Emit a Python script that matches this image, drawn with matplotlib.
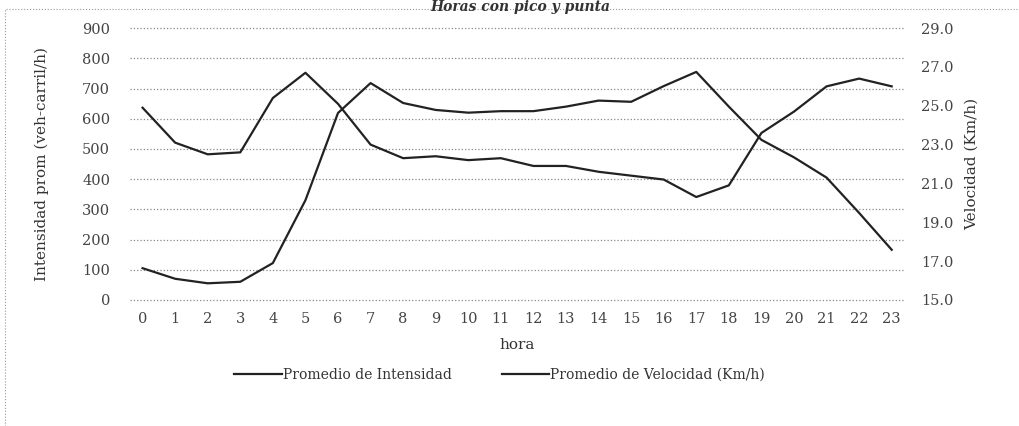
import matplotlib.pyplot as plt
from matplotlib.patches import Rectangle

horas = list(range(24))
intensidad = [105, 70, 55, 60, 122, 330, 619, 718, 652, 629, 620, 625,
              625, 640, 660, 656, 708, 755, 640, 530, 472, 405, 288, 166]
velocidad = [24.9, 23.1, 22.5, 22.6, 25.4, 26.7, 25.1, 23.0, 22.3, 22.4, 22.2, 22.3,
             21.9, 21.9, 21.6, 21.4, 21.2, 20.3, 20.9, 23.6, 24.7, 26.0, 26.4, 26.0]

ticks_izq = list(range(0, 901, 100))
ticks_der = [15.0, 17.0, 19.0, 21.0, 23.0, 25.0, 27.0, 29.0]

plt.rcParams['font.family'] = 'DejaVu Serif'

fig = plt.figure(figsize=(10.2, 4.26), dpi=100)
ax1 = fig.add_axes([0.127, 0.296, 0.760, 0.638])
ax2 = ax1.twinx()

l1, = ax1.plot(horas, intensidad, color='#222222', lw=1.6, label='Promedio de Intensidad')
l2, = ax2.plot(horas, velocidad, color='#222222', lw=1.6, label='Promedio de Velocidad (Km/h)')

ax1.set_xlim(-0.4, 23.4)
ax1.set_ylim(0, 900)
ax2.set_ylim(15, 29)
ax1.set_xticks(horas)
ax1.set_yticks(ticks_izq)
ax2.set_yticks(ticks_der)
ax2.set_yticklabels([f'{t:.1f}' for t in ticks_der])

# lineas de cuadricula punteadas (incluida la del 0)
for t in ticks_izq:
    ax1.axhline(t, linestyle=':', color='#888888', lw=0.9, clip_on=False, zorder=0)
for ax in (ax1, ax2):
    for s in ax.spines.values():
        s.set_visible(False)
    ax.tick_params(length=0, labelsize=10.5, colors='#444444')
ax1.tick_params(axis='y', pad=14)
ax2.tick_params(axis='y', pad=12)
ax1.tick_params(axis='x', pad=9)

ax1.set_xlabel('hora', fontsize=11, color='#333333', labelpad=8)
ax1.set_ylabel('Intensidad prom (veh-carril/h)', fontsize=11, color='#333333', labelpad=24)
ax2.set_ylabel('Velocidad (Km/h)', fontsize=11, color='#333333', labelpad=8)

fig.legend(handles=[l1, l2], loc='center', bbox_to_anchor=(0.49, 0.12), ncol=2,
           frameon=False, fontsize=10, handlelength=3.4, handletextpad=0.1,
           columnspacing=3.6, labelcolor='#333333')

fig.text(0.51, 0.999, 'Horas con pico y punta', ha='center', va='top',
         fontsize=10, style='italic', weight='bold', color='#333333')
fig.add_artist(Rectangle((0.005, -0.05), 1.2, 1.03, transform=fig.transFigure,
                         fill=False, ls=':', lw=0.8, edgecolor='#999999'))

fig.savefig('out.png', dpi=100)
